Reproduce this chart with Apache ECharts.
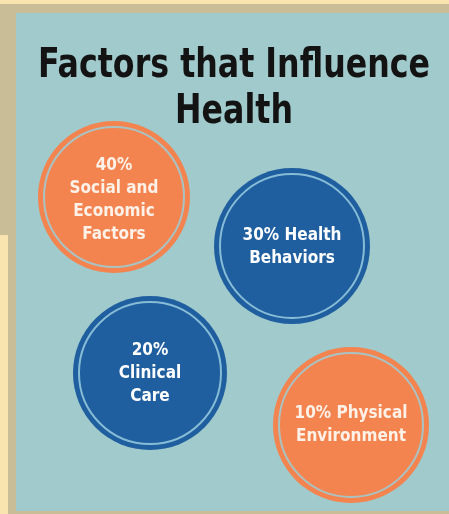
<!DOCTYPE html>
<html>
<head>
<meta charset="utf-8">
<script src="https://cdn.jsdelivr.net/npm/echarts@6/dist/echarts.min.js"></script>
<style>
  html, body { margin: 0; padding: 0; background: #f9e4b0; }
  #main { width: 449px; height: 514px; }
</style>
</head>
<body>
<div id="main"></div>
<script>
// the four factors, their share of health outcomes and the text printed in each circle
var factors = ['Social and Economic Factors', 'Health Behaviors', 'Clinical Care', 'Physical Environment']
var shares = [40, 30, 20, 10]
var circleText = ['40%\nSocial and\nEconomic\nFactors', '30% Health\nBehaviors', '20%\nClinical\nCare', '10% Physical\nEnvironment']

// where each circle sits on the (hidden) page axes
var posX = [114, 292, 150, 351]
var posY = [197, 246, 373, 425]

var chartTitle = 'Factors that Influence\nHealth'

var myChart = echarts.init(document.getElementById('main'))

var condensed = '"DejaVu Sans Condensed", "Liberation Sans Narrow", "DejaVu Sans", sans-serif'
var fills = ['#f38450', '#1f5e9f', '#1f5e9f', '#f38450']
var rings = ['#a9c3c3', '#86bcd6', '#86bcd6', '#a9c3c3']
var textColors = ['#fdf1e8', '#ffffff', '#ffffff', '#fdf1e8']
var outerSize = [152, 156, 154, 156]
var textShift = [[0, 3], [0, 1], [0, 1], [0, 0]]

var outer = []
var inner = []
for (var i = 0; i < factors.length; i++) {
    outer.push({
        name: factors[i],
        value: [posX[i], posY[i], shares[i]],
        symbolSize: outerSize[i],
        itemStyle: { color: fills[i], opacity: 1 }
    })
    inner.push({
        name: factors[i],
        value: [posX[i], posY[i], shares[i]],
        symbolSize: outerSize[i] - 12,
        itemStyle: { color: fills[i], borderColor: rings[i], borderWidth: 2, opacity: 1 },
        label: { color: textColors[i], formatter: circleText[i], offset: textShift[i] }
    })
}

var option = {
    backgroundColor: '#f9e4b0',
    animation: false,
    grid: { left: 0, right: 0, top: 0, bottom: 0 },
    xAxis: { type: 'value', min: 0, max: 449, show: false },
    yAxis: { type: 'value', min: 0, max: 514, inverse: true, show: false },
    graphic: [
        // frame behind the board
        { type: 'rect', z: -10, shape: { x: 0, y: 4, width: 449, height: 231 }, style: { fill: '#c9bd97' } },
        { type: 'rect', z: -10, shape: { x: 8, y: 4, width: 441, height: 510 }, style: { fill: '#c9bd97' } },
        { type: 'rect', z: -9, shape: { x: 16, y: 13, width: 433, height: 498 }, style: { fill: '#a0cacb' } },
        {
            type: 'text', z: 10, x: 234, y: 44, scaleX: 0.88,
            style: {
                text: chartTitle,
                align: 'center',
                verticalAlign: 'top',
                fill: '#131313',
                font: 'bold 40px ' + condensed,
                lineHeight: 46
            }
        }
    ],
    series: [
        {
            type: 'scatter',
            symbol: 'circle',
            data: outer,
            silent: true,
            z: 2
        },
        {
            type: 'scatter',
            symbol: 'circle',
            data: inner,
            silent: true,
            z: 3,
            label: {
                show: true,
                position: 'inside',
                fontFamily: condensed,
                fontWeight: 'bold',
                fontSize: 17,
                lineHeight: 23,
                align: 'center'
            }
        }
    ]
}

myChart.setOption(option)
</script>
</body>
</html>
